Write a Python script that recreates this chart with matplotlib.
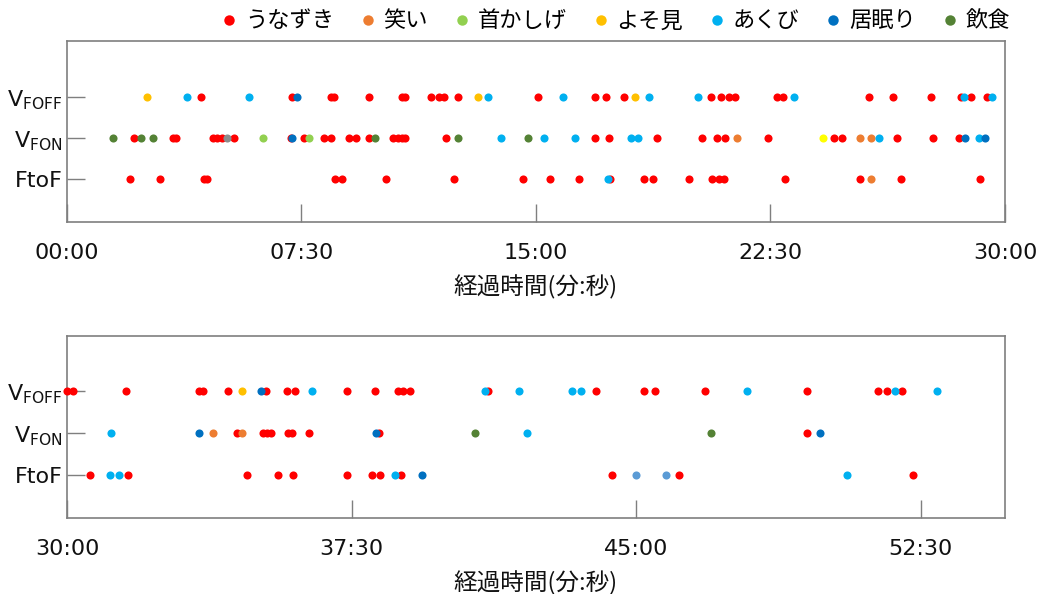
import matplotlib
matplotlib.use("Agg")
import matplotlib.pyplot as plt
from matplotlib.lines import Line2D
from matplotlib.ticker import FuncFormatter, FixedLocator

plt.rcParams["mathtext.fontset"] = "dejavusans"

# Row order on the y axis (bottom to top)
rows = ["FtoF", "VFON", "VFOFF"]
row_labels = ["FtoF", r"V$_{\mathregular{FON}}$", r"V$_{\mathregular{FOFF}}$"]

# Behaviour categories shown in the legend
categories = ["うなずき", "笑い", "首かしげ", "よそ見", "あくび", "居眠り", "飲食"]
colors = ["#FF0000", "#ED7D31", "#92D050", "#FFC000", "#00B0F0", "#0070C0", "#548235"]

# Event times in seconds from the start, per row
nod = {
    "FtoF": [121, 179, 263, 269, 514, 527, 612, 742, 876, 926, 983, 1042, 1107, 1124,
             1193, 1237, 1252, 1261, 1378, 1522, 1600, 1752,
             1836, 1897, 2084, 2134, 2158, 2242, 2283, 2295, 2328, 2661, 2768, 3138],
    "VFON": [129, 203, 209, 280, 287, 297, 321, 429, 454, 493, 506, 541, 555, 579, 626,
             636, 642, 649, 727, 1014, 1041, 1132, 1219, 1248, 1262, 1345, 1472, 1487,
             1592, 1661, 1711,
             2069, 2110, 2117, 2122, 2149, 2156, 2182, 2293, 2970],
    "VFOFF": [258, 432, 506, 512, 580, 642, 649, 699, 714, 724, 750, 903, 1013, 1035,
              1069, 1236, 1256, 1270, 1281, 1362, 1375, 1539, 1586, 1658, 1716, 1734, 1765,
              1800, 1809, 1893, 2009, 2015, 2054, 2115, 2148, 2161, 2242, 2287, 2323,
              2331, 2343, 2465, 2636, 2713, 2729, 2809, 2970, 3083, 3096, 3120],
}
laugh = {"FtoF": [1542], "VFON": [1285, 1522, 1543, 2031, 2076], "VFOFF": []}
tilt = {"FtoF": [], "VFON": [376, 464], "VFOFF": []}
look_away = {"FtoF": [], "VFON": [], "VFOFF": [154, 789, 1090, 2077]}
yawn = {
    "FtoF": [1038, 1868, 1883, 2319, 3033],
    "VFON": [832, 916, 974, 1082, 1096, 1559, 1750, 1869, 2528],
    "VFOFF": [230, 349, 808, 951, 1117, 1210, 1396, 1722, 1775, 2188, 2461, 2515,
              2599, 2612, 2875, 3109, 3176],
}
doze = {"FtoF": [2362], "VFON": [431, 1723, 1762, 2008, 2289, 2990], "VFOFF": [442, 2106]}
eat = {"FtoF": [], "VFON": [89, 143, 166, 592, 750, 885, 2445, 2819], "VFOFF": []}

# A few marks drawn in colours outside the legend
extra_colors = ["#8C8C8C", "#FFFF00", "#5B9BD5"]
extra = [
    {"FtoF": [], "VFON": [308], "VFOFF": []},
    {"FtoF": [], "VFON": [1450], "VFOFF": []},
    {"FtoF": [2700, 2747], "VFON": [], "VFOFF": []},
]

series = [nod, laugh, tilt, look_away, yawn, doze, eat]

# Time window of each panel (seconds): start, end, ticks, y range
panels = [(0, 1800, [0, 450, 900, 1350, 1800], (-0.05, 4.37)),
          (1800, 3283, [1800, 2250, 2700, 3150], (-0.02, 4.31))]

cjk = ["Noto Sans CJK JP", "DejaVu Sans"]
spine_color = "#7F7F7F"

fig = plt.figure(figsize=(10.4, 5.94), dpi=100)
axes = [fig.add_axes([0.0644, 0.6263, 0.9019, 0.3047]),
        fig.add_axes([0.0644, 0.1279, 0.9019, 0.3064])]


def mmss(v, pos=None):
    v = int(round(v))
    return f"{v // 60:02d}:{v % 60:02d}"


def draw(ax, data, color, lo, hi, z):
    for i, r in enumerate(rows):
        xs = [t for t in data[r] if lo <= t < hi]
        if xs:
            ax.scatter(xs, [i + 1] * len(xs), s=34, color=color, linewidths=0,
                       zorder=z, clip_on=False)


for ax, (lo, hi, ticks, ylim) in zip(axes, panels):
    for k, (data, c) in enumerate(zip(series, colors)):
        draw(ax, data, c, lo, hi, 3 + k * 0.1)
    for data, c in zip(extra, extra_colors):
        draw(ax, data, c, lo, hi, 3.5)

    ax.set_xlim(lo, hi)
    ax.set_ylim(*ylim)
    ax.xaxis.set_major_locator(FixedLocator(ticks))
    ax.xaxis.set_major_formatter(FuncFormatter(mmss))
    ax.set_yticks([1, 2, 3])
    ax.set_yticklabels(row_labels)
    ax.tick_params(axis="both", direction="in", length=13, width=1.0,
                   color=spine_color, labelsize=16, labelcolor="#111111")
    ax.tick_params(axis="x", pad=15)
    ax.tick_params(axis="y", pad=3)
    for sp in ax.spines.values():
        sp.set_color(spine_color)
        sp.set_linewidth(1.2)
    ax.set_xlabel("経過時間(分:秒)", fontsize=17, family=cjk, labelpad=9,
                  color="#111111")

handles = [Line2D([], [], marker="o", linestyle="none", markersize=7.5,
                  markerfacecolor=c, markeredgewidth=0) for c in colors]
fig.legend(handles, categories, loc="upper right", bbox_to_anchor=(0.99, 1.018),
           ncol=7, frameon=False, handlelength=0.4, handletextpad=0.5,
           columnspacing=1.33, prop={"family": cjk, "size": 16})

fig.savefig("out.png", dpi=100, facecolor="white")
